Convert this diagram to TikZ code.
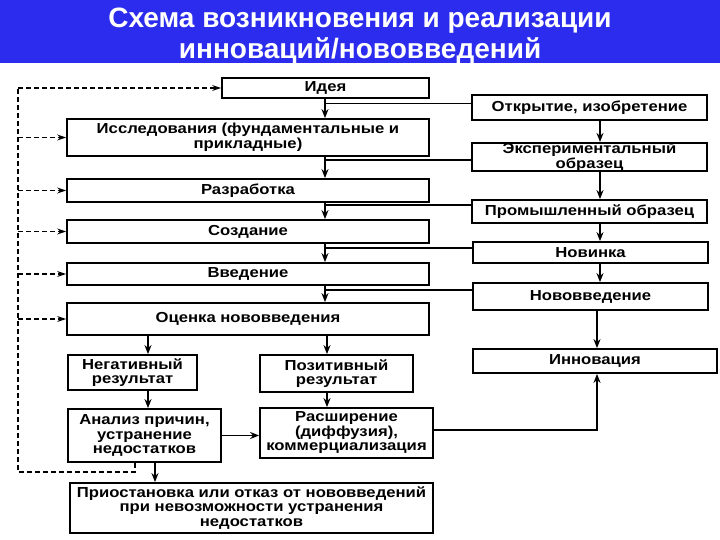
\documentclass[tikz,border=0pt]{standalone}
\usepackage{fontspec}
\setmainfont{Liberation Sans}
\newfontfamily\boxfont[FakeStretch=1.15]{Liberation Sans}
\usetikzlibrary{arrows.meta}
\definecolor{titleblue}{RGB}{44,44,238}
\tikzset{
  box/.style={draw=black, line width=1.8pt, fill=white, inner sep=0pt, align=center,
    font=\boxfont\bfseries\fontsize{14.5}{14.5}\selectfont},
  ttl/.style={text=white, font=\bfseries\fontsize{28}{31}\selectfont, anchor=base, inner sep=0pt},
  arr/.style={line width=1.8pt, -{Stealth[length=9pt,width=7pt]}},
  conn/.style={line width=1.6pt},
  darr/.style={line width=1.5pt, dash pattern=on 5pt off 3pt, -{Stealth[length=9pt,width=6pt]}},
  dline/.style={line width=1.5pt, dash pattern=on 5pt off 3pt}
}
\begin{document}
\begin{tikzpicture}[x=1pt,y=-1pt]
\useasboundingbox (0,0) rectangle (720,540);
\fill[titleblue] (0,0) rectangle (720,63);
\node[ttl] (t1) at (360,28) {Схема возникновения и реализации};
\node[ttl] (t2) at (360,59) {инноваций/нововведений};
% left column
\node[box, minimum width=207pt, minimum height=20pt] (idea) at (325.5,88) {Идея};
\node[box, minimum width=362pt, minimum height=37pt] (issl) at (248,137.5) {Исследования (фундаментальные и\\прикладные)};
\node[box, minimum width=362pt, minimum height=23pt] (razr) at (248,190.5) {Разработка};
\node[box, minimum width=362pt, minimum height=23pt] (sozd) at (248,231.5) {Создание};
\node[box, minimum width=362pt, minimum height=22pt] (vved) at (248,274) {Введение};
\node[box, minimum width=362pt, minimum height=32pt] (ocen) at (248,319) {Оценка нововведения};
\node[box, minimum width=129pt, minimum height=35pt] (neg) at (132.5,372.5) {Негативный\\результат};
\node[box, minimum width=153pt, minimum height=37pt] (poz) at (336.5,373.5) {Позитивный\\результат};
\node[box, minimum width=153pt, minimum height=53pt] (anal) at (144.5,435.5) {Анализ причин,\\устранение\\недостатков};
\node[box, minimum width=173pt, minimum height=50pt] (rasш) at (346.5,433) {Расширение\\(диффузия),\\коммерциализация};
\node[box, minimum width=363pt, minimum height=50pt] (prio) at (251.5,508) {Приостановка или отказ от нововведений\\при невозможности устранения\\недостатков};
% right column
\node[box, minimum width=235pt, minimum height=25pt] (otkr) at (589.5,107.5) {Открытие, изобретение};
\node[box, minimum width=235pt, minimum height=26pt] (exp) at (589.5,157) {Экспериментальный\\образец};
\node[box, minimum width=235pt, minimum height=23pt] (prom) at (589.5,211.5) {Промышленный образец};
\node[box, minimum width=235pt, minimum height=21pt] (nov) at (590.5,252.5) {Новинка};
\node[box, minimum width=235pt, minimum height=27pt] (novv) at (590.5,296.5) {Нововведение};
\node[box, minimum width=244pt, minimum height=24pt] (inn) at (595,361) {Инновация};
% helper coordinates
\coordinate (mx) at (325,0);
\coordinate (rx) at (600,0);
\coordinate (ry) at (597,0);
\coordinate (nx) at (148,0);
\coordinate (px) at (327,0);
\coordinate (ax) at (155,0);
\coordinate (dx) at (135,0);
\coordinate (lx) at (18,0);
% main column arrows
\draw[arr] (mx |- idea.south) -- (mx |- issl.north);
\draw[arr] (mx |- issl.south) -- (mx |- razr.north);
\draw[arr] (mx |- razr.south) -- (mx |- sozd.north);
\draw[arr] (mx |- sozd.south) -- (mx |- vved.north);
\draw[arr] (mx |- vved.south) -- (mx |- ocen.north);
% branches to right column
\coordinate (b1) at ([yshift=4pt]otkr.west);
\coordinate (b2) at ([yshift=-3pt]exp.west);
\coordinate (b3) at ([yshift=6.5pt]prom.west);
\coordinate (b4) at ([yshift=4.5pt]nov.west);
\coordinate (b5) at ([yshift=6.5pt]novv.west);
\draw[conn] (b1 -| mx) -- (b1);
\draw[conn] (b2 -| mx) -- (b2);
\draw[conn] (b3 -| mx) -- (b3);
\draw[conn] (b4 -| mx) -- (b4);
\draw[conn] (b5 -| mx) -- (b5);
% right column arrows
\draw[arr] (rx |- otkr.south) -- (rx |- exp.north);
\draw[arr] (rx |- exp.south) -- (rx |- prom.north);
\draw[arr] (rx |- prom.south) -- (rx |- nov.north);
\draw[arr] (rx |- nov.south) -- (rx |- novv.north);
\draw[arr] (ry |- novv.south) -- (ry |- inn.north);
% evaluation branches
\draw[arr] (nx |- ocen.south) -- (nx |- neg.north);
\draw[arr] (px |- ocen.south) -- (px |- poz.north);
\draw[arr] (nx |- neg.south) -- (nx |- anal.north);
\draw[arr] (px |- poz.south) -- (px |- rasш.north);
\draw[arr] (anal.east) -- (anal.east -| rasш.west);
\draw[arr] (ax |- anal.south) -- (ax |- prio.north);
\coordinate (r1) at ([yshift=3pt]rasш.east);
\draw[arr] (r1) -- (r1 -| ry) -- (ry |- inn.south);
% dashed feedback loop
\coordinate (d1) at (135,472);
\draw[dline] (dx |- anal.south) -- (d1) -- (d1 -| lx) -- (lx |- idea.west);
\draw[darr] (lx |- idea.west) -- (idea.west);
\draw[darr] (lx |- issl.west) -- (issl.west);
\draw[darr] (lx |- razr.west) -- (razr.west);
\draw[darr] (lx |- sozd.west) -- (sozd.west);
\draw[darr] (lx |- vved.west) -- (vved.west);
\draw[darr] (lx |- ocen.west) -- (ocen.west);
\end{tikzpicture}
\end{document}
